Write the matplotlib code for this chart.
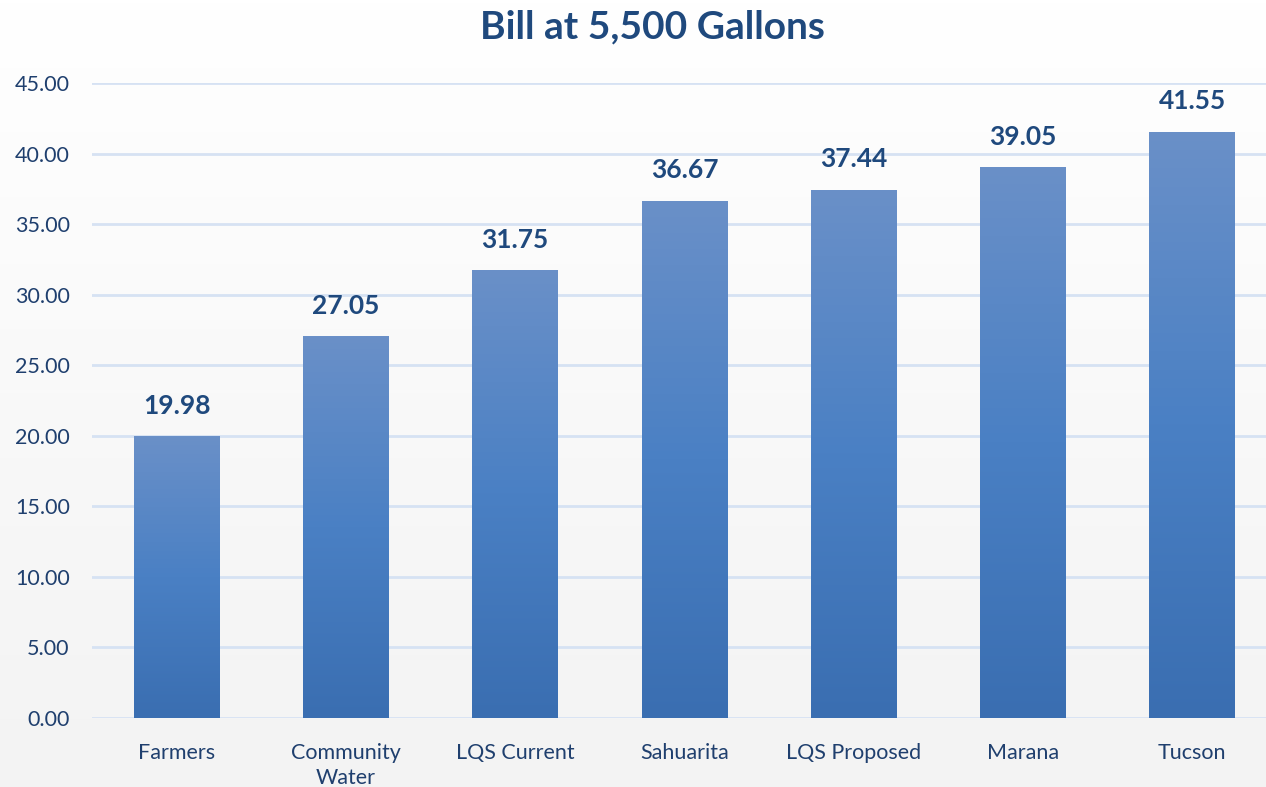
import matplotlib
matplotlib.use("Agg")
import matplotlib.pyplot as plt
import numpy as np
from matplotlib.colors import LinearSegmentedColormap

categories = ["Farmers", "Community\nWater", "LQS Current", "Sahuarita", "LQS Proposed", "Marana", "Tucson"]
values = [19.98, 27.05, 31.75, 36.67, 37.44, 39.05, 41.55]
yticks = [0, 5, 10, 15, 20, 25, 30, 35, 40, 45]

plt.rcParams['font.family'] = ['Lato', 'DejaVu Sans']
txt_color = "#1F3F6E"
title_color = "#1F497D"

fig = plt.figure(figsize=(12.66, 7.87), dpi=100)

# background gradient
bg = fig.add_axes([0, 0, 1, 1], zorder=-10)
grad = np.linspace(0, 1, 256).reshape(-1, 1)
bg_cmap = LinearSegmentedColormap.from_list("bg", ["#FFFFFF", "#F3F3F3"])
bg.imshow(grad, aspect="auto", cmap=bg_cmap, extent=[0, 1, 0, 1], origin="upper")
bg.axis("off")

ax = fig.add_axes([92/1266, 69/787, 1185/1266, 635/787])
ax.patch.set_alpha(0)
x = np.arange(len(categories))
bars = ax.bar(x, values, width=0.508, color="none", zorder=3)
ax.set_xlim(-0.5, len(categories) - 0.5)
ax.set_ylim(0, 45)

bar_cmap = LinearSegmentedColormap.from_list("bar", ["#3A6EB1", "#4A80C4", "#6A90C8"])
for b, v in zip(bars, values):
    x0 = b.get_x(); w = b.get_width()
    g = np.linspace(0, 1, 256).reshape(-1, 1)
    im = ax.imshow(g, aspect="auto", cmap=bar_cmap, extent=[x0, x0 + w, 0, v],
                   origin="lower", zorder=3)
    im.set_clip_path(b)
    ax.text(b.get_x() + w / 2, v + 1.3, f"{v:.2f}", ha="center", va="bottom",
            fontsize=19, fontweight="bold", color=title_color, zorder=4)

ax.set_yticks(yticks)
ax.set_yticklabels([f"{t:.2f}" for t in yticks])
ax.set_xticks(x)
ax.set_xticklabels(categories, linespacing=1.3)
ax.tick_params(axis="y", length=0, pad=16, labelsize=15.5, labelcolor=txt_color)
ax.tick_params(axis="x", length=0, pad=18, labelsize=15.5, labelcolor=txt_color)
ax.yaxis.grid(True, color="#D6E2F3", linewidth=2, zorder=0)
ax.set_axisbelow(True)
for s in ax.spines.values():
    s.set_visible(False)

fig.text(652/1266, 1 - 27/787, "Bill at 5,500 Gallons", ha="center", va="center",
         fontsize=28, fontweight="bold", color=title_color)

fig.savefig("out.png", dpi=100)
